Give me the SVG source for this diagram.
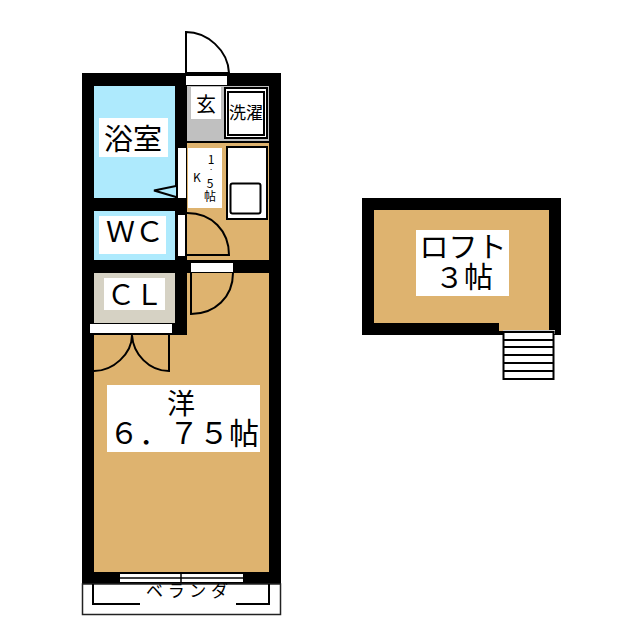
<svg xmlns="http://www.w3.org/2000/svg" width="640" height="640" viewBox="0 0 640 640">
<style>
.w{fill:#000}.t{fill:#deb36f}.b{fill:#aeeafd}.o{fill:#fff}
.l{fill:none;stroke:#000;stroke-width:2}
.g{fill:#fff;stroke:#000;stroke-width:2}
text{font-family:"Noto Sans CJK JP","Liberation Sans",sans-serif;fill:#000;text-anchor:middle}
</style>
<rect width="640" height="640" fill="#fff"/>
<g id="plan-walls">
<rect class="w" x="82" y="73" width="199" height="511"/>
</g>
<g id="room-bath">
<rect class="b" x="94" y="86" width="81" height="112"/>
<rect class="o" x="99" y="118" width="69" height="39"/>
<text x="133" y="150" font-size="29">浴室</text>
<path d="M176 186L154 190.500L176 197" fill="#aeeafd" stroke="#000" stroke-width="2"/>
</g>
<g id="room-genkan">
<rect x="187" y="86" width="82" height="55" fill="#c0c0c0"/>
<rect class="o" x="191" y="87" width="30" height="32"/>
<text x="206" y="112" font-size="20">玄</text>
<rect x="225" y="88" width="42" height="50" fill="#fff" stroke="#000" stroke-width="2"/>
<rect x="228" y="92" width="36" height="43" fill="#fff" stroke="#000" stroke-width="2"/>
<text x="246" y="119" font-size="17">洗濯</text>
</g>
<g id="room-kitchen">
<rect class="t" x="187" y="143" width="82" height="117"/>
<rect class="o" x="188" y="148" width="34" height="60"/>
<text font-size="12"><tspan x="211" y="164">1</tspan><tspan x="211" y="170" font-size="8">.</tspan><tspan x="197" y="182">K</tspan><tspan x="210" y="188">5</tspan><tspan x="210" y="201">帖</tspan></text>
<rect class="g" x="227" y="147" width="40" height="72"/>
<rect x="230.500" y="183.500" width="30" height="30" rx="2" fill="#fff" stroke="#000" stroke-width="2"/>
</g>
<g id="room-wc">
<rect class="b" x="94" y="211" width="81" height="49"/>
<rect class="o" x="99" y="216" width="67" height="38"/>
<text x="135" y="242" font-size="29">ＷＣ</text>
</g>
<g id="room-western">
<rect class="t" x="94" y="273" width="175" height="299"/>
<rect class="o" x="107" y="385" width="153" height="67"/>
<text font-size="30"><tspan x="181" y="414" font-size="28">洋</tspan><tspan x="184" y="444">６．７５帖</tspan></text>
</g>
<g id="room-cl">
<rect x="94" y="273" width="81" height="50" fill="#d6d2c4"/>
<rect class="w" x="175" y="273" width="12" height="62"/>
<rect class="w" x="82" y="323" width="105" height="12"/>
<rect class="o" x="104" y="278" width="61" height="32"/>
<text x="135" y="305" font-size="28">ＣＬ</text>
<rect class="o" x="90" y="324" width="82" height="9"/>
</g>
<g id="room-balcony">
<rect x="82.500" y="584" width="198" height="30.500" fill="#fff" stroke="#222" stroke-width="1.500"/>
<path class="l" d="M93 584V604H140M236 604H269V584"/>
<text x="187" y="597" font-size="17" textLength="82" lengthAdjust="spacing">ベランダ</text>
</g>
<g id="loft">
<rect class="w" x="362" y="198" width="199" height="137"/>
<rect class="t" x="374" y="210" width="175" height="113"/>
<rect class="t" x="499" y="323" width="50" height="8"/>
<rect class="o" x="416" y="230" width="93" height="66"/>
<text font-size="29"><tspan x="463" y="258">ロフト</tspan><tspan x="464" y="288">３帖</tspan></text>
</g>
<g id="stairs">
<rect x="503" y="330" width="52" height="4" fill="#ccc"/>
<rect x="503.500" y="332" width="50" height="47" fill="#fff" stroke="#000" stroke-width="2"/>
<path class="l" d="M503 340H554M503 347H554M503 355H554M503 363H554M503 371H554"/>
</g>
<g id="connectors">
<path class="g" d="M186 71V32C207 32 228 50 229 73H186Z"/>
<rect class="o" x="186" y="76" width="41" height="9"/>
<rect class="o" x="178" y="148" width="8" height="50"/>
<rect class="o" x="178" y="215" width="7" height="41"/>
<path class="l" d="M187 213C212 213 229 231 229 255H187"/>
<rect class="o" x="191" y="263" width="42" height="9"/>
<path class="l" d="M191 273V314C215 314 233 297 233 273"/>
<path class="l" d="M132 335C132 354 113 371 94 371M132 335C133 354 149 371 169 371V335"/>
<rect class="o" x="120" y="574" width="123" height="8"/>
<path d="M120 578H243" stroke="#000" stroke-width="1.500"/>
<path d="M181 572V582" stroke="#000" stroke-width="1.500"/>
</g>
</svg>
